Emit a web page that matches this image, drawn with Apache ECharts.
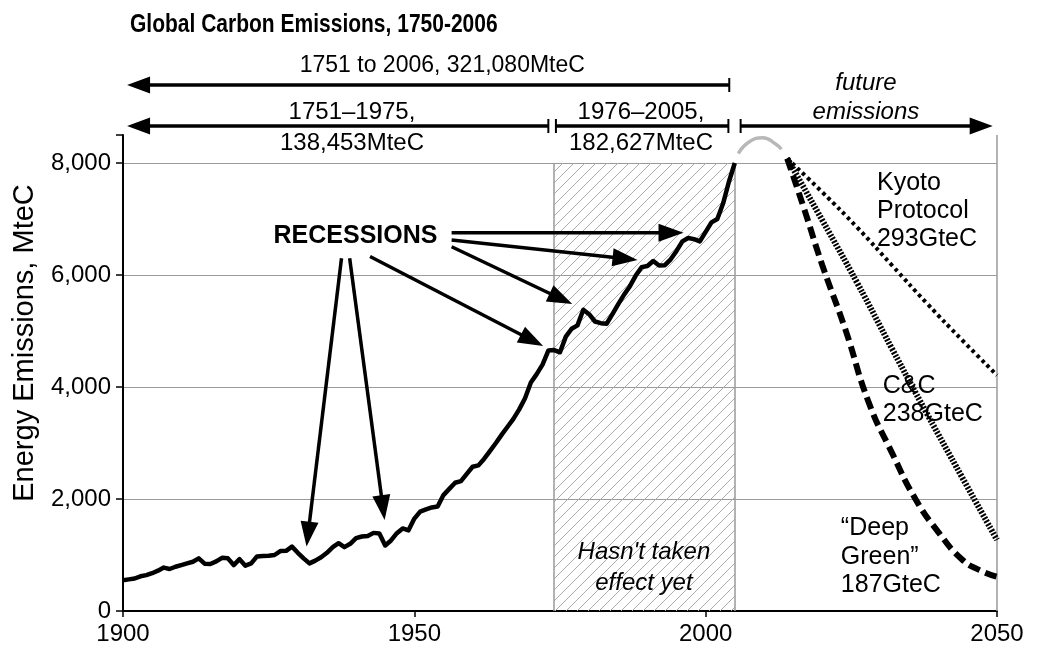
<!DOCTYPE html>
<html>
<head>
<meta charset="utf-8">
<title>Global Carbon Emissions, 1750-2006</title>
<script src="https://cdn.jsdelivr.net/npm/echarts@6.0.0/dist/echarts.min.js"></script>
<style>
    html, body { margin: 0; padding: 0; background: #fff; }
    #chart { width: 1037px; height: 646px; }
</style>
</head>
<body>
<div id="chart"></div>
<script>
const FONT = '"Liberation Sans", Arial, sans-serif'

// historic energy emissions, MteC
const emissionYears = [
    1900, 1901, 1902, 1903, 1904, 1905, 1906, 1907, 1908, 1909,
    1910, 1911, 1912, 1913, 1914, 1915, 1916, 1917, 1918, 1919,
    1920, 1921, 1922, 1923, 1924, 1925, 1926, 1927, 1928, 1929,
    1930, 1931, 1932, 1933, 1934, 1935, 1936, 1937, 1938, 1939,
    1940, 1941, 1942, 1943, 1944, 1945, 1946, 1947, 1948, 1949,
    1950, 1951, 1952, 1953, 1954, 1955, 1956, 1957, 1958, 1959,
    1960, 1961, 1962, 1963, 1964, 1965, 1966, 1967, 1968, 1969,
    1970, 1971, 1972, 1973, 1974, 1975, 1976, 1977, 1978, 1979,
    1980, 1981, 1982, 1983, 1984, 1985, 1986, 1987, 1988, 1989,
    1990, 1991, 1992, 1993, 1994, 1995, 1996, 1997, 1998, 1999,
    2000, 2001, 2002, 2003, 2004, 2005
]
const emissionValues = [
    550, 565, 580, 620, 640, 675, 720, 775, 750, 790,
    820, 850, 880, 940, 845, 840, 885, 950, 940, 820,
    925, 810, 850, 975, 980, 985, 1000, 1070, 1075, 1150,
    1040, 940, 850, 900, 960, 1040, 1140, 1210, 1140, 1200,
    1300, 1330, 1340, 1395, 1385, 1170, 1260, 1390, 1475, 1440,
    1650, 1775, 1815, 1850, 1865, 2070, 2180, 2290, 2320, 2450,
    2575, 2600, 2720, 2860, 3000, 3150, 3290, 3430, 3600, 3800,
    4080, 4230, 4400, 4650, 4660, 4620, 4900, 5040, 5100, 5380,
    5300, 5170, 5140, 5130, 5300, 5480, 5650, 5800, 5990, 6140,
    6160, 6250, 6170, 6175, 6280, 6430, 6600, 6660, 6640, 6600,
    6770, 6940, 7000, 7280, 7670, 8000
]

// grey peak sketched beyond 2005
const peakYears = [2005.6, 2007.5, 2009.8, 2012, 2013]
const peakValues = [8170, 8380, 8450, 8340, 8245]

// future pathways
const kyotoYears = [2014, 2020, 2026, 2032, 2038, 2044, 2050]
const kyotoValues = [8080, 7480, 6850, 6170, 5490, 4840, 4210]
const ccYears = [2014, 2020, 2026, 2032, 2038, 2044, 2050]
const ccValues = [8080, 6980, 5860, 4680, 3520, 2390, 1270]
const deepGreenYears = [2014, 2017, 2020, 2024, 2028, 2032, 2036, 2040, 2044, 2047, 2050]
const deepGreenValues = [8080, 7150, 6180, 5020, 3720, 2820, 2000, 1400, 920, 730, 610]

// axes
const xTicks = [1900, 1950, 2000, 2050]
const yTicks = [0, 2000, 4000, 6000, 8000]
const yTop = 8500

// shaded period and its borders
const shadedFrom = 1974
const shadedTo = 2005

// arrows from "RECESSIONS" to the dips, [from, to] in [year, MteC]
const recessionArrows = [
    [[1937.5, 6300], [1931.5, 1150]],
    [[1938.9, 6300], [1944.9, 1625]],
    [[1942.4, 6330], [1972.1, 4730]],
    [[1956.4, 6505], [1977.1, 5480]],
    [[1956.4, 6625], [1988.3, 6270]],
    [[1956.4, 6755], [1996.2, 6755]]
]

// period spans above the plot: [level, fromYear, toYear, startEnd, endEnd]
const spanRows = [
    [9393, 1900.7, 2004.05, 'arrow', 'bar'],
    [8661, 1900.7, 1973.0, 'arrow', 'bar'],
    [8661, 1974.3, 2003.9, 'bar', 'bar'],
    [8661, 2006.0, 2049.26, 'bar', 'arrow']
]

function pairs(xs, ys) {
    return xs.map((x, i) => [x, ys[i]])
}

function withCommas(v) {
    return String(v).replace(/\B(?=(\d{3})+(?!\d))/g, ',')
}

function makeHatch() {
    const s = 11
    const c = document.createElement('canvas')
    c.width = s
    c.height = s
    const ctx = c.getContext('2d')
    ctx.strokeStyle = '#ababab'
    ctx.lineWidth = 1
    ctx.beginPath()
    ctx.moveTo(-1, s + 1)
    ctx.lineTo(s + 1, -1)
    ctx.moveTo(-1, 1)
    ctx.lineTo(1, -1)
    ctx.moveTo(s - 1, s + 1)
    ctx.lineTo(s + 1, s - 1)
    ctx.stroke()
    return c
}

const chart = echarts.init(document.getElementById('chart'), null, { renderer: 'canvas' })

const axisText = { fontFamily: FONT, fontSize: 24, color: '#000' }

chart.setOption({
    animation: false,
    backgroundColor: '#fff',
    grid: { left: 123, right: 40, top: 135, bottom: 35, containLabel: false },
    xAxis: {
        type: 'value',
        min: xTicks[0],
        max: xTicks[xTicks.length - 1],
        interval: 50,
        axisLine: { lineStyle: { color: '#000', width: 2 } },
        axisTick: { show: true, length: 6, lineStyle: { color: '#000', width: 1.5 } },
        axisLabel: { ...axisText, margin: 11, formatter: v => String(v) },
        splitLine: { show: false }
    },
    yAxis: {
        type: 'value',
        min: yTicks[0],
        max: yTop,
        interval: 2000,
        axisLine: { show: true, lineStyle: { color: '#000', width: 2 } },
        axisTick: { show: true, length: 7, lineStyle: { color: '#000', width: 1.5 } },
        axisLabel: { ...axisText, margin: 12, formatter: v => (yTicks.includes(v) ? withCommas(v) : '') },
        splitLine: { show: true, showMinLine: false, showMaxLine: false, lineStyle: { color: '#9a9a9a', width: 1 } }
    },
    series: [
        {
            name: 'Emissions',
            type: 'line',
            data: pairs(emissionYears, emissionValues),
            symbol: 'none',
            z: 4,
            lineStyle: { color: '#000', width: 4.5, join: 'round' },
            markArea: {
                silent: true,
                z: 1,
                itemStyle: { color: { image: makeHatch(), repeat: 'repeat' } },
                data: [[{ xAxis: shadedFrom, yAxis: 0 }, { xAxis: shadedTo, yAxis: yTicks[yTicks.length - 1] }]]
            },
            markLine: {
                silent: true,
                z: 2,
                symbol: ['none', 'none'],
                label: { show: false },
                lineStyle: { color: '#9a9a9a', width: 1.5, type: 'solid' },
                data: [
                    [{ coord: [shadedFrom, 0] }, { coord: [shadedFrom, yTicks[yTicks.length - 1]] }],
                    [{ coord: [shadedTo, 0] }, { coord: [shadedTo, yTicks[yTicks.length - 1]] }],
                    [{ coord: [xTicks[xTicks.length - 1], 0] }, { coord: [xTicks[xTicks.length - 1], yTop] }]
                ]
            }
        },
        {
            name: 'Peak',
            type: 'line',
            data: pairs(peakYears, peakValues),
            smooth: true,
            symbol: 'none',
            z: 3,
            lineStyle: { color: '#b8b8b8', width: 3.5 }
        },
        {
            name: 'Kyoto Protocol',
            type: 'line',
            data: pairs(kyotoYears, kyotoValues),
            smooth: true,
            symbol: 'none',
            z: 3,
            lineStyle: { color: '#000', width: 4, type: [3.5, 3.5], cap: 'butt' }
        },
        {
            name: 'C&C',
            type: 'line',
            data: pairs(ccYears, ccValues),
            smooth: true,
            symbol: 'none',
            z: 3,
            lineStyle: { color: '#000', width: 6, type: [2, 1.5], cap: 'butt' }
        },
        {
            name: 'Deep Green',
            type: 'line',
            data: pairs(deepGreenYears, deepGreenValues),
            smooth: true,
            symbol: 'none',
            z: 3,
            lineStyle: { color: '#000', width: 6, type: [12, 6], cap: 'butt' }
        }
    ]
})

function px(point) {
    return chart.convertToPixel({ gridIndex: 0 }, point)
}

function arrow(from, to, width, headLen, headHalf) {
    const a = px(from)
    const b = px(to)
    const dx = b[0] - a[0]
    const dy = b[1] - a[1]
    const len = Math.hypot(dx, dy)
    const ux = dx / len
    const uy = dy / len
    const bx = b[0] - ux * headLen
    const by = b[1] - uy * headLen
    return [
        {
            type: 'line',
            z: 20,
            shape: { x1: a[0], y1: a[1], x2: bx + ux * 2, y2: by + uy * 2 },
            style: { stroke: '#000', lineWidth: width }
        },
        {
            type: 'polygon',
            z: 20,
            shape: { points: [[b[0], b[1]], [bx - uy * headHalf, by + ux * headHalf], [bx + uy * headHalf, by - ux * headHalf]] },
            style: { fill: '#000' }
        }
    ]
}

function endBar(year, level) {
    const p = px([year, level])
    return {
        type: 'line',
        z: 20,
        shape: { x1: p[0], y1: p[1] - 7, x2: p[0], y2: p[1] + 7 },
        style: { stroke: '#000', lineWidth: 2 }
    }
}

function note(text, at, opts) {
    const p = px(at)
    return {
        type: 'text',
        z: 20,
        x: p[0],
        y: p[1],
        style: Object.assign({
            text,
            fill: '#000',
            fontFamily: FONT,
            fontSize: 24,
            align: 'center',
            verticalAlign: 'middle'
        }, opts || {})
    }
}

function buildAnnotations() {
    const els = []

    // chart title: the source font is tall and narrow, so squeeze it sideways
    els.push({
        type: 'text',
        z: 20,
        x: 130,
        y: 25,
        scaleX: 0.84,
        style: {
            text: 'Global Carbon Emissions, 1750-2006',
            fill: '#000',
            fontFamily: FONT,
            fontSize: 25,
            fontWeight: 'bold',
            align: 'left',
            verticalAlign: 'middle'
        }
    })

    spanRows.forEach(([level, x1, x2, startEnd, endEnd]) => {
        if (startEnd === 'arrow') {
            els.push(...arrow([x2, level], [x1, level], 3.5, 23, 8.5))
        } else if (endEnd === 'arrow') {
            els.push(...arrow([x1, level], [x2, level], 3.5, 23, 8.5))
        } else {
            const a = px([x1, level])
            const b = px([x2, level])
            els.push({ type: 'line', z: 20, shape: { x1: a[0], y1: a[1], x2: b[0], y2: b[1] }, style: { stroke: '#000', lineWidth: 3.5 } })
        }
        if (startEnd === 'bar') els.push(endBar(x1, level))
        if (endEnd === 'bar') els.push(endBar(x2, level))
    })

    recessionArrows.forEach(([from, to]) => {
        els.push(...arrow(from, to, 3.5, 25, 9))
    })

    els.push(note('1751 to 2006, 321,080MteC', [1954.8, 9732], { fontSize: 23 }))
    els.push(note('1751\u20131975,', [1939.3, 8902]))
    els.push(note('138,453MteC', [1939.3, 8357]))
    els.push(note('1976\u20132005,', [1988.9, 8902]))
    els.push(note('182,627MteC', [1988.9, 8357]))
    els.push(note('future', [2027.5, 9429], { fontStyle: 'italic' }))
    els.push(note('emissions', [2027.5, 8911], { fontStyle: 'italic' }))

    els.push(note('RECESSIONS', [1939.9, 6688], { fontWeight: 'bold', fontSize: 25 }))

    els.push(note('Hasn\'t taken\neffect yet', [1989.4, 1330], {
        fontStyle: 'italic', fontSize: 24, lineHeight: 31, verticalAlign: 'top'
    }))

    els.push(note('Kyoto\nProtocol\n293GteC', [2029.4, 7893], {
        fontSize: 25, lineHeight: 28, align: 'left', verticalAlign: 'top'
    }))
    els.push(note('C&C\n238GteC', [2030.4, 4268], {
        fontSize: 25, lineHeight: 28, align: 'left', verticalAlign: 'top'
    }))
    els.push(note('\u201cDeep\nGreen\u201d\n187GteC', [2023.2, 1732], {
        fontSize: 25, lineHeight: 28.5, align: 'left', verticalAlign: 'top'
    }))

    // y-axis title sits left of the labels, a little above the middle
    const t = px([1883.2, 4786])
    els.push({
        type: 'text',
        z: 20,
        x: t[0],
        y: t[1],
        rotation: Math.PI / 2,
        style: {
            text: 'Energy Emissions, MteC',
            fill: '#000',
            fontFamily: FONT,
            fontSize: 29,
            align: 'center',
            verticalAlign: 'middle'
        }
    })

    return els
}

chart.setOption({ graphic: buildAnnotations() })
</script>
</body>
</html>
